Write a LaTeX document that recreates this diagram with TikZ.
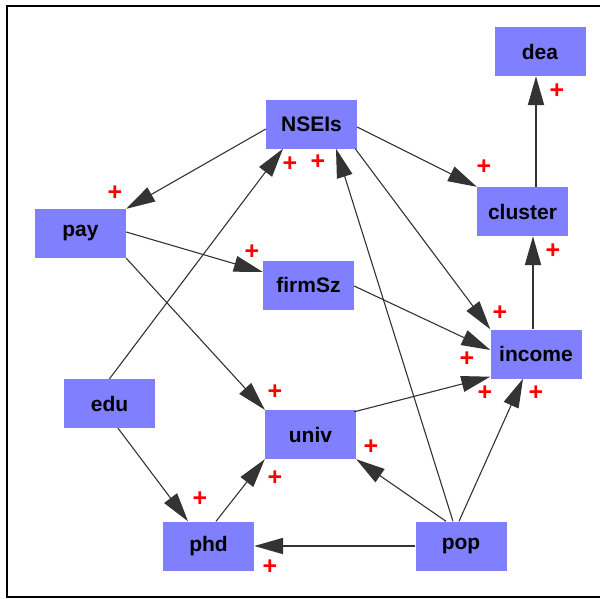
\documentclass[tikz,border=0pt]{standalone}
\usepackage{fontspec}
\setmainfont{Liberation Sans}
\usetikzlibrary{arrows.meta}
\definecolor{boxblue}{RGB}{128,128,255}
\definecolor{edgegray}{RGB}{51,51,51}
\tikzset{
  var/.style={fill=boxblue, minimum width=91, minimum height=49, inner sep=0pt,
    font=\bfseries\fontsize{21}{24}\selectfont},
  link/.style={draw=edgegray, line width=1.1pt,
    -{Triangle[length=29pt,width=16pt]}},
  strong/.style={link, line width=2pt},
  sign/.style={text=red, font=\bfseries\fontsize{25}{25}\selectfont, inner sep=0pt},
}
\begin{document}
\begin{tikzpicture}[x=1pt, y=-1pt]
\useasboundingbox (0,0) rectangle (600,598);
\begin{scope}
  \clip (0,0) rectangle (600,598);
  \draw[line width=2pt] (7,6) rectangle (610,597);
\end{scope}

% variables
\node[var] (dea)     at (540,51.5)    {dea};
\node[var] (NSEIs)   at (311.5,124)   {NSEIs};
\node[var] (cluster) at (522.5,211.5) {cluster};
\node[var] (pay)     at (80.5,233.5)  {pay};
\node[var] (firmSz)  at (308.5,285)   {firmSz};
\node[var] (income)  at (536,354)     {income};
\node[var] (edu)     at (109.5,403.5) {edu};
\node[var] (univ)    at (310.5,434.5) {univ};
\node[var] (phd)     at (208.5,546)   {phd};
\node[var] (pop)     at (461,546)     {pop};

% causal links
\draw[link] ([shift={(0,5)}]NSEIs.west) -- (pay.north east);
\draw[link] ([shift={(0,3)}]NSEIs.east) -- (cluster.north west);
\draw[link] ([shift={(-2,0)}]NSEIs.south east) -- (income.north west);
\draw[link] ([shift={(0,-1.5)}]pay.east) -- ([shift={(0,-13)}]firmSz.west);
\draw[link] (pay.south east) -- (univ.north west);
\draw[link] ([shift={(0,1)}]firmSz.east) -- ([shift={(0,-4)}]income.west);
\draw[link] ([shift={(-2,2)}]univ.north east) -- ([shift={(0,-2)}]income.south west);
\draw[link] (edu.north) -- ([shift={(-28.5,0)}]NSEIs.south);
\draw[link] ([shift={(8.5,0)}]edu.south) -- ([shift={(-20.5,0)}]phd.north);
\draw[link] ([shift={(7.5,0)}]phd.north) -- (univ.south west);
\draw[strong] (pop.west) -- (phd.east);
\draw[link] ([shift={(-15,0)}]pop.north) -- (univ.south east);
\draw[link] ([shift={(-8,0)}]pop.north) -- ([shift={(24.5,0)}]NSEIs.south);
\draw[link] ([shift={(-2,0)}]pop.north) -- ([shift={(-13,0)}]income.south);
\draw[strong] ([shift={(-3,0)}]income.north) -- ([shift={(10.5,0)}]cluster.south);
\draw[strong] ([shift={(13.5,0)}]cluster.north) -- ([shift={(-4,0)}]dea.south);

% signs
\node[sign] (s1)  at (115,193) {+};
\node[sign] (s2)  at (290,164) {+};
\node[sign] (s3)  at (318,162) {+};
\node[sign] (s4)  at (484,167) {+};
\node[sign] (s5)  at (557,91)  {+};
\node[sign] (s6)  at (252,252) {+};
\node[sign] (s7)  at (553,251) {+};
\node[sign] (s8)  at (500,313) {+};
\node[sign] (s9)  at (467,359) {+};
\node[sign] (s10) at (485,393) {+};
\node[sign] (s11) at (536,393) {+};
\node[sign] (s12) at (275,392) {+};
\node[sign] (s13) at (371,447) {+};
\node[sign] (s14) at (275,478) {+};
\node[sign] (s15) at (200,499) {+};
\node[sign] (s16) at (270,567) {+};
\end{tikzpicture}
\end{document}
